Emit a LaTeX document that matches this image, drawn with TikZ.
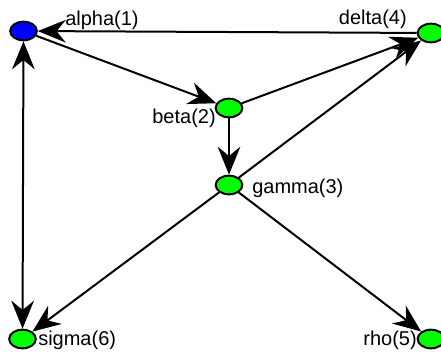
\documentclass[tikz,border=0pt]{standalone}
\usepackage{fontspec}
\setmainfont{Liberation Sans}
\usetikzlibrary{arrows.meta,shapes.geometric}
\begin{document}
\begin{tikzpicture}[x=0.75pt,y=-0.75pt,
  vtx/.style={draw, line width=1.5pt, ellipse, minimum width=20pt, minimum height=14pt, inner sep=0pt, fill=green},
  lbl/.style={font=\fontsize{15}{17}\selectfont, inner sep=0pt},
  tip/.tip={Stealth[length=21pt,width=17pt,inset=7pt]},
  edge/.style={line width=1.5pt, -tip},
  bedge/.style={line width=1.5pt, tip-tip}
]
\useasboundingbox (0,0) rectangle (441,353);
\node[vtx, fill=blue] (alpha) at (23.5,31) {};
\node[vtx] (delta) at (431,33) {};
\node[vtx] (beta) at (229,108) {};
\node[vtx] (gamma) at (229,185) {};
\node[vtx] (sigma) at (22.5,339) {};
\node[vtx] (rho) at (431,339) {};
\node[lbl, anchor=base west] (la) at (65,26) {alpha(1)};
\node[lbl, anchor=base east] (ld) at (407,25) {delta(4)};
\node[lbl, anchor=base east] (lb) at (216,123) {beta(2)};
\node[lbl, anchor=base west] (lg) at (252,193) {gamma(3)};
\node[lbl, anchor=base west] (ls) at (38,345) {sigma(6)};
\node[lbl, anchor=base east] (lr) at (417,345) {rho(5)};
\draw[edge] (delta) -- (alpha);
\draw[edge] (alpha) -- (beta);
\draw[edge] (beta) -- (delta);
\draw[edge] (beta) -- (gamma);
\draw[edge] (gamma) -- (delta);
\draw[edge] (gamma) -- (sigma);
\draw[edge] (gamma) -- (rho);
\draw[bedge] (alpha) -- (sigma);
\end{tikzpicture}
\end{document}
